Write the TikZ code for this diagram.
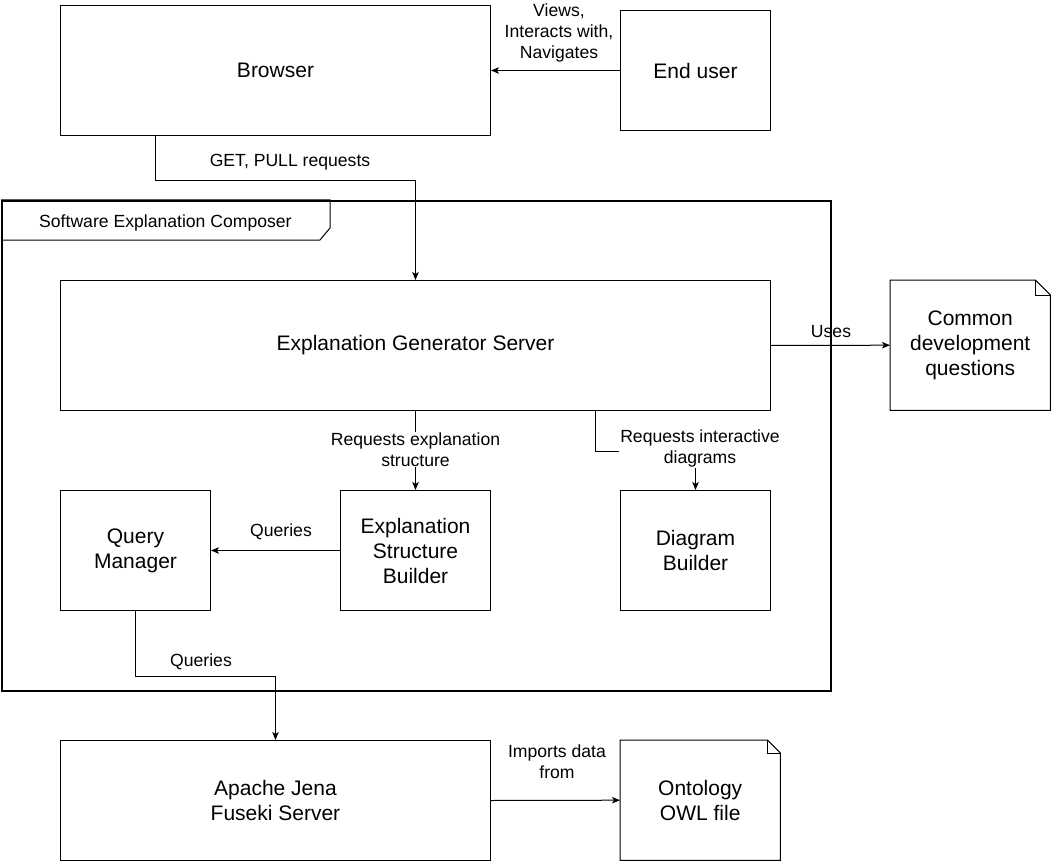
\documentclass[tikz,border=0pt]{standalone}
\usepackage{fontspec}
\setmainfont{Liberation Sans}
\usetikzlibrary{arrows.meta,calc}
\begin{document}
\begin{tikzpicture}[x=1pt,y=-1pt,
  box/.style={draw, line width=1pt, anchor=north west, align=center, inner sep=0pt,
    font=\fontsize{21}{25}\selectfont},
  notetext/.style={anchor=north west, align=center, inner sep=0pt,
    font=\fontsize{21}{25}\selectfont},
  lbl/.style={align=center, inner sep=1pt, font=\fontsize{17.6}{21}\selectfont},
  arr/.style={draw, line width=1pt, -{Stealth[length=8pt,width=6.5pt,inset=2pt]}},
  ln/.style={draw, line width=1pt}]
\useasboundingbox (0,0) rectangle (1052,861);

% frame
\node[draw, line width=2pt, anchor=north west, minimum width=829pt, minimum height=490pt, inner sep=0pt] (frame) at (1,200) {};
\draw[line width=1pt] (frame.north west) -- ++(329,0) -- ++(0,28) -- ++(-10,12) -- ++(-319,0);
\node[lbl, anchor=west] (framelbl) at (38,223) {Software Explanation Composer};

% boxes
\node[box, minimum width=430pt, minimum height=130pt] (browser) at (60,5) {\raisebox{-1pt}{Browser}};
\node[box, minimum width=150pt, minimum height=120pt] (user) at (620,10) {End user};
\node[box, minimum width=710pt, minimum height=130pt] (egs) at (60,280) {\raisebox{-2pt}{Explanation Generator Server}};
\node[box, minimum width=150pt, minimum height=120pt] (qm) at (60,490) {Query\\Manager};
\node[box, minimum width=150pt, minimum height=120pt] (esb) at (340,490) {Explanation\\Structure\\Builder};
\node[box, minimum width=150pt, minimum height=120pt] (db) at (620,490) {Diagram\\Builder};
\node[box, minimum width=430pt, minimum height=120pt] (fuseki) at (60,740) {Apache Jena\\Fuseki Server};

% notes
\node[notetext, minimum width=160pt, minimum height=130pt] (cdq) at (890,280) {Common\\development\\questions};
\draw[line width=1pt] (cdq.north west) -- ([xshift=-15pt]cdq.north east) -- ([yshift=-15pt]cdq.north east) -- (cdq.south east) -- (cdq.south west) -- cycle;
\draw[line width=1pt] ([xshift=-15pt]cdq.north east) -- ([xshift=-15pt,yshift=-15pt]cdq.north east) -- ([yshift=-15pt]cdq.north east);

\node[notetext, minimum width=160pt, minimum height=120pt] (owl) at (620,740) {Ontology\\ OWL file};
\draw[line width=1pt] (owl.north west) -- ([xshift=-13pt]owl.north east) -- ([yshift=-13pt]owl.north east) -- (owl.south east) -- (owl.south west) -- cycle;
\draw[line width=1pt] ([xshift=-13pt]owl.north east) -- ([xshift=-13pt,yshift=-13pt]owl.north east) -- ([yshift=-13pt]owl.north east);

% connectors
\draw[arr] (user.west) -- (browser.east);
\node[lbl] (l1) at (559,33) {Views,\\Interacts with,\\Navigates};

\draw[arr] ([xshift=95pt]browser.south west) -- ++(0,45) -| (egs.north);
\node[lbl] (l2) at (290,162) {GET, PULL requests};

\draw[arr] (egs.east) -- (cdq.west);
\node[lbl] (l3) at (831,332) {Uses};

\draw[arr] (egs.south) -- (esb.north) node[midway, lbl, fill=white, yshift=1pt] {Requests explanation\\structure};

\draw[arr] ([xshift=535pt]egs.south west) -- ++(0,40) -| (db.north);
\node[lbl, fill=white] (l5) at (700,448) {Requests interactive\\diagrams};

\draw[arr] (esb.west) -- (qm.east);
\node[lbl] (l6) at (281,532) {Queries};

\draw[arr] (qm.south) -- ++(0,65) -| (fuseki.north);
\node[lbl] (l7) at (201,662) {Queries};

\draw[arr] (fuseki.east) -- (owl.west);
\node[lbl] (l8) at (557,762) {Imports data\\from};
\end{tikzpicture}
\end{document}
